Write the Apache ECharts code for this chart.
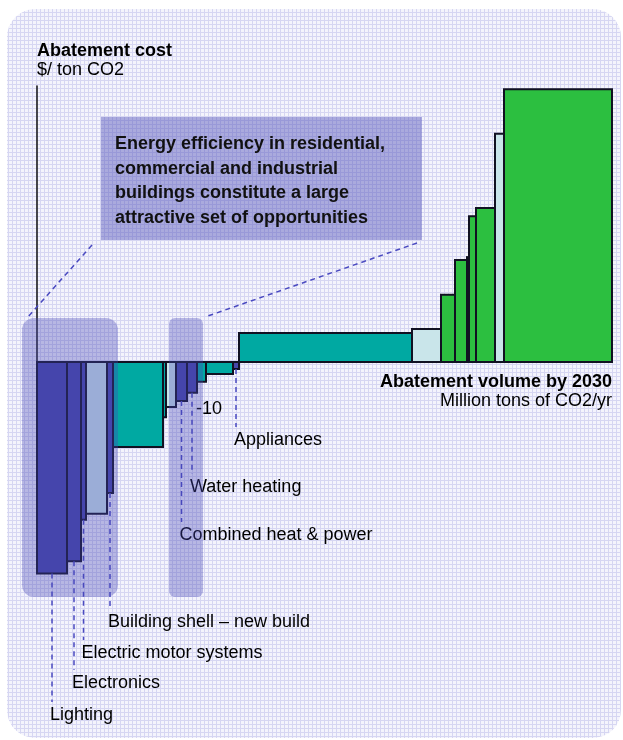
<!DOCTYPE html>
<html>
<head>
<meta charset="utf-8">
<script src="https://cdn.jsdelivr.net/npm/echarts@6/dist/echarts.min.js"></script>
<style>
  html, body { margin: 0; padding: 0; background: #fff; }
  #main { width: 623px; height: 740px; }
</style>
</head>
<body>
<div id="main"></div>
<script>
// abatement levers, left to right (volume in Mt CO2/yr, cost in $/ton CO2)
const levers = ['Lighting', 'Electronics', 'Electric motor systems', '', 'Building shell – new build',
  '', '', '', 'Combined heat & power', 'Water heating', '', '', 'Appliances',
  '', '', '', '', '', '', '', '', ''];
const volumes = [150, 70, 25, 105, 30, 250, 15, 50, 55, 50, 45, 135, 30,
  865, 145, 70, 60, 10, 35, 95, 45, 540];
const costs = [-46, -43.3, -34.3, -33, -28.5, -18.5, -12, -9.8, -8.5, -6.7, -4.3, -2.6, -1.5,
  6.3, 7.2, 14.6, 22.2, 22.8, 31.7, 33.5, 49.6, 59.3];
// b = buildings (dark blue), t = teal, l = light blue, g = green
const kinds = ['b', 'b', 'b', 'l', 'b', 't', 't', 'l', 'b', 'b', 't', 't', 'b',
  't', 'l', 'g', 'g', 'g', 'g', 'g', 'l', 'g'];
// label text rows (pixel y of the label line), only for named levers
const labelRows = [715, 683, 653, null, 622, null, null, null, 535, 487, null, null, 440,
  null, null, null, null, null, null, null, null, null];

const colors = { b: '#4646a8', t: '#00a9a2', l: '#c9e5ea', g: '#2cbf40' };

let start = 0;
const data = volumes.map(function (v, i) {
  const item = [start, start + v, costs[i], i];
  start += v;
  return item;
});
const total = start;

// background grid pattern
const pat = document.createElement('canvas');
pat.width = 4; pat.height = 4;
const pctx = pat.getContext('2d');
pctx.fillStyle = '#f4f4fc';
pctx.fillRect(0, 0, 4, 4);
pctx.fillStyle = '#d6d6f2';
pctx.fillRect(0, 0, 4, 1);
pctx.fillRect(0, 0, 1, 4);

const font = '18px "Liberation Sans", Arial, sans-serif';
const bold = 'bold 18px "Liberation Sans", Arial, sans-serif';

let myChart = echarts.init(document.getElementById('main'));
myChart.setOption({
  animation: false,
  grid: { left: 37, right: 11, top: 86, bottom: 166.4 },
  xAxis: {
    type: 'value', min: 0, max: total,
    axisLine: { onZero: true, lineStyle: { color: '#111', width: 2 } },
    axisTick: { show: false }, axisLabel: { show: false }, splitLine: { show: false }
  },
  yAxis: {
    type: 'value', min: -46, max: 60,
    axisLine: { show: true, lineStyle: { color: '#111', width: 1.5 } },
    axisTick: { show: false }, axisLabel: { show: false }, splitLine: { show: false }
  },
  graphic: [
    { type: 'rect', z: -10, shape: { x: 7, y: 9, width: 614, height: 729, r: 28 },
      style: { fill: { image: pat, repeat: 'repeat' } } },
    { type: 'text', z: 5, style: { x: 37, y: 51, text: 'Abatement cost', font: bold, fill: '#000', verticalAlign: 'middle' } },
    { type: 'text', z: 5, style: { x: 37, y: 70, text: '$/ ton CO2', font: font, fill: '#000', verticalAlign: 'middle' } },
    { type: 'rect', z: 5, shape: { x: 101, y: 117, width: 321, height: 123 },
      style: { fill: 'rgba(80,80,185,0.45)' } },
    { type: 'text', z: 6, style: { x: 115, y: 132, text: 'Energy efficiency in residential,\ncommercial and industrial\nbuildings constitute a large\nattractive set of opportunities',
      font: bold, lineHeight: 24.5, fill: '#111', verticalAlign: 'top' } },
    { type: 'line', z: 5, shape: { x1: 92, y1: 245, x2: 27, y2: 318 },
      style: { stroke: '#4a4ac0', lineWidth: 1.5, lineDash: [5, 4] } },
    { type: 'line', z: 5, shape: { x1: 417, y1: 243, x2: 205, y2: 317 },
      style: { stroke: '#4a4ac0', lineWidth: 1.5, lineDash: [5, 4] } },
    { type: 'rect', z: 10, shape: { x: 22, y: 318, width: 96, height: 279, r: 12 },
      style: { fill: 'rgba(70,70,180,0.35)' } },
    { type: 'rect', z: 10, shape: { x: 169, y: 318, width: 34, height: 279, r: 6 },
      style: { fill: 'rgba(70,70,180,0.35)' } },
    { type: 'text', z: 5, style: { x: 196, y: 409, text: '-10', font: font, fill: '#000', verticalAlign: 'middle' } },
    { type: 'text', z: 5, style: { x: 612, y: 382, text: 'Abatement volume by 2030', font: bold, fill: '#000', align: 'right', verticalAlign: 'middle' } },
    { type: 'text', z: 5, style: { x: 612, y: 401, text: 'Million tons of CO2/yr', font: font, fill: '#000', align: 'right', verticalAlign: 'middle' } }
  ],
  series: [{
    type: 'custom',
    z: 3,
    data: data,
    encode: { x: [0, 1], y: 2 },
    renderItem: function (params, api) {
      const i = api.value(3);
      const p0 = api.coord([api.value(0), api.value(2)]);
      const p1 = api.coord([api.value(1), 0]);
      const x = Math.min(p0[0], p1[0]);
      const y = Math.min(p0[1], p1[1]);
      const children = [{
        type: 'rect',
        shape: { x: x, y: y, width: Math.abs(p1[0] - p0[0]), height: Math.abs(p1[1] - p0[1]) },
        style: { fill: colors[kinds[i]], stroke: '#111122', lineWidth: 2 }
      }];
      if (labelRows[i] !== null) {
        const cx = (p0[0] + p1[0]) / 2;
        const bottom = Math.max(p0[1], p1[1]);
        children.push({
          type: 'line',
          shape: { x1: cx, y1: bottom, x2: cx, y2: labelRows[i] - 13 },
          style: { stroke: '#4a4ac0', lineWidth: 1.5, lineDash: [5, 4] }
        });
        children.push({
          type: 'text',
          style: { x: cx - 2, y: labelRows[i], text: levers[i], font: font, fill: '#000', verticalAlign: 'middle' }
        });
      }
      return { type: 'group', children: children };
    }
  }]
});
</script>
</body>
</html>
